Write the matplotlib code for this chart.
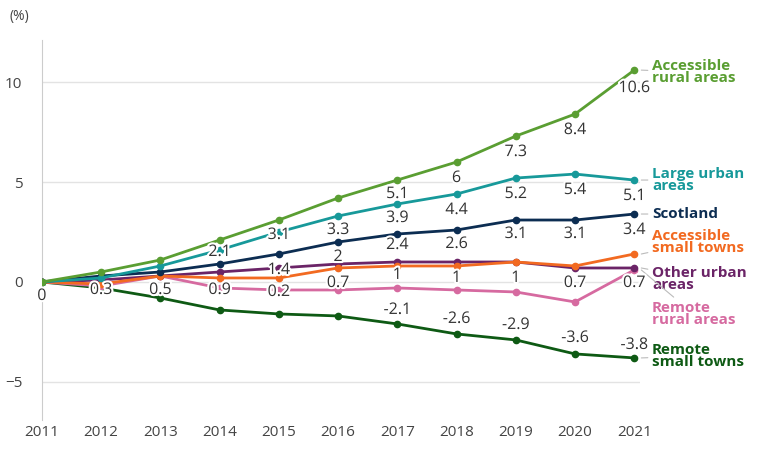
import matplotlib
matplotlib.use("Agg")
import matplotlib.pyplot as plt
import matplotlib.patheffects as pe

plt.rcParams['font.family'] = ['Open Sans', 'DejaVu Sans']

years = list(range(2011, 2022))

acc_rural = [0, 0.5, 1.1, 2.1, 3.1, 4.2, 5.1, 6.0, 7.3, 8.4, 10.6]
large_urban = [0, 0.2, 0.8, 1.6, 2.5, 3.3, 3.9, 4.4, 5.2, 5.4, 5.1]
scotland = [0, 0.3, 0.5, 0.9, 1.4, 2.0, 2.4, 2.6, 3.1, 3.1, 3.4]
acc_towns = [0, -0.1, 0.3, 0.2, 0.2, 0.7, 0.8, 0.8, 1.0, 0.8, 1.4]
other_urban = [0, 0.1, 0.3, 0.5, 0.7, 0.9, 1.0, 1.0, 1.0, 0.7, 0.7]
remote_rural = [0, -0.2, 0.3, -0.3, -0.4, -0.4, -0.3, -0.4, -0.5, -1.0, 0.6]
remote_towns = [0, -0.3, -0.8, -1.4, -1.6, -1.7, -2.1, -2.6, -2.9, -3.6, -3.8]

series = [
    ("Accessible\nrural areas", acc_rural, "#5a9e32", 10.5),
    ("Large urban\nareas", large_urban, "#17999a", 5.1),
    ("Scotland", scotland, "#0c2d52", 3.4),
    ("Accessible\nsmall towns", acc_towns, "#f26a21", 2.0),
    ("Other urban\nareas", other_urban, "#6b2467", 0.15),
    ("Remote\nrural areas", remote_rural, "#d66aa0", -1.6),
    ("Remote\nsmall towns", remote_towns, "#0e5a14", -3.7),
]

# value labels: (year, text, label y)
labels = [
    (2014, "2.1", 1.5), (2015, "3.1", 2.35), (2016, "3.3", 2.6),
    (2017, "5.1", 4.4), (2018, "6", 5.2), (2019, "7.3", 6.5),
    (2020, "8.4", 7.6), (2021, "10.6", 9.7),
    (2017, "3.9", 3.2), (2018, "4.4", 3.6), (2019, "5.2", 4.4),
    (2020, "5.4", 4.6), (2021, "5.1", 4.3),
    (2011, "0", -0.7), (2012, "0.3", -0.4), (2013, "0.5", -0.4),
    (2014, "0.9", -0.4), (2015, "1.4", 0.6), (2016, "2", 1.25),
    (2017, "2.4", 1.85), (2018, "2.6", 1.9), (2019, "3.1", 2.4),
    (2020, "3.1", 2.4), (2021, "3.4", 2.6),
    (2015, "0.2", -0.5), (2016, "0.7", -0.05), (2017, "1", 0.35),
    (2018, "1", 0.2), (2019, "1", 0.2), (2020, "0.7", -0.05),
    (2021, "0.7", -0.05),
    (2017, "-2.1", -1.4), (2018, "-2.6", -1.85), (2019, "-2.9", -2.15),
    (2020, "-3.6", -2.8), (2021, "-3.8", -3.15),
]

fig = plt.figure(figsize=(7.75, 4.51), dpi=100)
ax = fig.add_axes([0.054, 0.069, 0.772, 0.842])

for name, vals, col, ly in series[::-1]:
    ax.plot(years, vals, color=col, lw=2, marker="o", ms=4.5, zorder=3)

for yr, txt, ly in labels:
    ax.text(yr, ly, txt, ha="center", va="center", fontsize=11.5, color="#333333", zorder=4,
            path_effects=[pe.withStroke(linewidth=3, foreground="white")])

for name, vals, col, ly in series:
    ax.annotate(name, xy=(2021.12, vals[-1]), xytext=(2021.3, ly), textcoords="data",
                fontsize=11, fontweight="bold", color=col, va="center", ha="left",
                linespacing=0.85, annotation_clip=False,
                arrowprops=dict(arrowstyle="-", color="#bbbbbb", lw=0.8,
                                shrinkA=1, shrinkB=0))

ax.set_xlim(2011, 2021.1)
ax.set_ylim(-6.9, 12.1)
ax.set_xticks(years)
ax.set_yticks([-5, 0, 5, 10])
ax.grid(axis="y", color="#e3e3e3", lw=1)
ax.set_axisbelow(True)
for s in ["top", "right", "bottom"]:
    ax.spines[s].set_visible(False)
ax.spines["left"].set_color("#cccccc")
ax.tick_params(length=0, labelsize=11, colors="#444444")
ax.tick_params(axis="y", pad=14)
fig.text(0.012, 0.955, "(%)", fontsize=10, color="#444444")

fig.savefig("out.png", dpi=100)
